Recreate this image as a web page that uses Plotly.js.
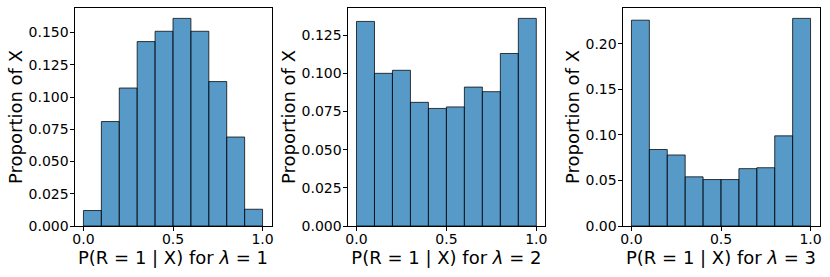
<!DOCTYPE html>
<html>
<head>
<meta charset="utf-8">
<script src="https://cdn.plot.ly/plotly-3.0.1.min.js"></script>
<style>html,body{margin:0;padding:0;background:#fff;}#chart{width:830px;height:277px;}</style>
</head>
<body>
<div id="chart"></div>
<script>
// Bin centers (bins of width 0.1 over [0, 1])
const binCenters = [0.05, 0.15, 0.25, 0.35, 0.45, 0.55, 0.65, 0.75, 0.85, 0.95];
const binWidth = 0.1;

// Proportions of X per bin, for each lambda
const lambda1 = [0.012, 0.081, 0.107, 0.143, 0.151, 0.161, 0.151, 0.112, 0.069, 0.013];
const lambda2 = [0.134, 0.100, 0.102, 0.081, 0.077, 0.078, 0.091, 0.088, 0.113, 0.136];
const lambda3 = [0.226, 0.084, 0.078, 0.054, 0.051, 0.051, 0.063, 0.064, 0.099, 0.228];

const lambdas = ['1', '2', '3'];
const series = [lambda1, lambda2, lambda3];

const xTickVals = [0, 0.5, 1];
const xTickText = ['0.0', '0.5', '1.0'];
const yTickVals = [
  [0, 0.025, 0.05, 0.075, 0.1, 0.125, 0.15],
  [0, 0.025, 0.05, 0.075, 0.1, 0.125],
  [0, 0.05, 0.1, 0.15, 0.2]
];
const yTickFormat = ['.3f', '.3f', '.2f'];

const W = 830, H = 277;
const xDomainsPx = [[74.5, 271.5], [347.5, 545.3], [622.5, 819.5]];
const yDomainPx = [8, 226];

const FONT = 'DejaVu Sans, sans-serif';
const traces = [];
const layout = {
  width: W, height: H,
  margin: {l: 0, r: 0, t: 0, b: 0},
  paper_bgcolor: '#fff', plot_bgcolor: '#fff',
  showlegend: false,
  font: {family: FONT, color: '#000'},
  bargap: 0
};

series.forEach((vals, i) => {
  const n = i + 1;
  const xa = n === 1 ? 'x' : 'x' + n;
  const ya = n === 1 ? 'y' : 'y' + n;
  traces.push({
    type: 'bar',
    x: binCenters,
    y: vals,
    width: binWidth,
    xaxis: xa, yaxis: ya,
    marker: {color: 'rgba(31,119,180,0.75)', line: {color: 'rgba(0,0,0,0.75)', width: 1}},
    hoverinfo: 'x+y'
  });
  const ymax = Math.max(...vals) * 1.05;
  layout['xaxis' + (n === 1 ? '' : n)] = {
    domain: [xDomainsPx[i][0] / W, xDomainsPx[i][1] / W],
    anchor: ya,
    range: [-0.05, 1.05],
    tickvals: xTickVals, ticktext: xTickText,
    ticks: 'outside', ticklen: 4, tickwidth: 1, tickcolor: '#000',
    ticklabelstandoff: -4,
    tickfont: {family: FONT, size: 14, color: '#000'},
    showgrid: false, zeroline: false,
    showline: true, linecolor: '#000', linewidth: 1, mirror: true,
    title: {text: 'P(R = 1 | X) for <i>λ</i> = ' + lambdas[i], font: {family: FONT, size: 18, color: '#000'}, standoff: 1}
  };
  layout['yaxis' + (n === 1 ? '' : n)] = {
    domain: [(H - yDomainPx[1]) / H, (H - yDomainPx[0]) / H],
    anchor: xa,
    range: [0, ymax],
    tickvals: yTickVals[i], tickformat: yTickFormat[i],
    ticks: 'outside', ticklen: 4, tickwidth: 1, tickcolor: '#000',
    ticklabelstandoff: -2,
    tickfont: {family: FONT, size: 14, color: '#000'},
    showgrid: false, zeroline: false,
    showline: true, linecolor: '#000', linewidth: 1, mirror: true,
    title: {text: 'Proportion of X', font: {family: FONT, size: 18, color: '#000'}, standoff: 1}
  };
});

Plotly.newPlot('chart', traces, layout, {displayModeBar: false, staticPlot: true});
</script>
</body>
</html>
